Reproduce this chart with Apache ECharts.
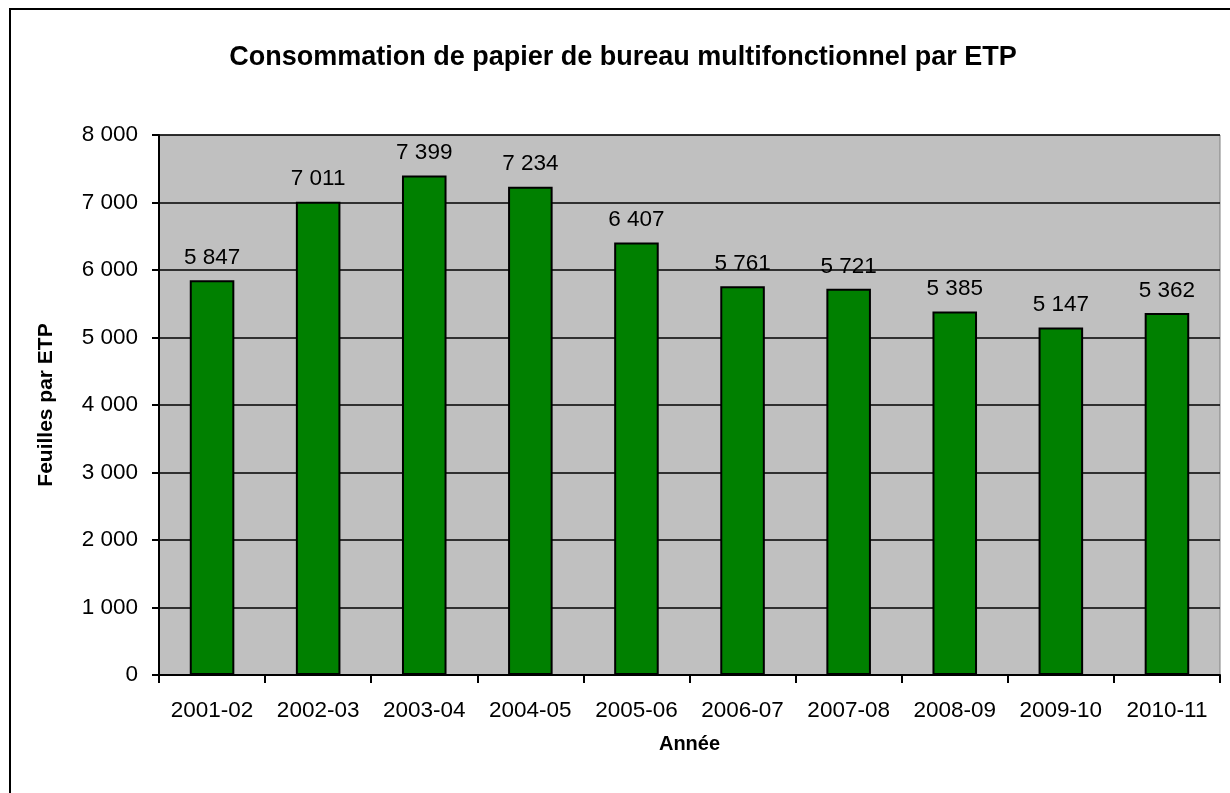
<!DOCTYPE html>
<html>
<head>
<meta charset="utf-8">
<script src="https://cdn.jsdelivr.net/npm/echarts@6/dist/echarts.min.js"></script>
<style>html,body{margin:0;padding:0;background:#fff}#c{width:1230px;height:793px}</style>
</head>
<body>
<div id="c"></div>
<script>
const titleText = "Consommation de papier de bureau multifonctionnel par ETP";
const categories = ["2001-02","2002-03","2003-04","2004-05","2005-06","2006-07","2007-08","2008-09","2009-10","2010-11"];
const values = [5847, 7011, 7399, 7234, 6407, 5761, 5721, 5385, 5147, 5362];
const yAxisName = "Feuilles par ETP";
const xAxisName = "Année";

function fmt(v){ return String(v).replace(/\B(?=(\d{3})+(?!\d))/g, " "); }
const FONT = "Liberation Sans, Arial, sans-serif";
const chart = echarts.init(document.getElementById('c'), null, {renderer:'canvas'});
chart.setOption({
  animation:false,
  backgroundColor:'#fff',
  title:{text:titleText,left:618,textAlign:'center',top:39,textStyle:{fontFamily:FONT,fontSize:27,fontWeight:'bold',color:'#000'}},
  graphic:[{type:'rect',shape:{x:10,y:9,width:1240,height:800},style:{fill:'none',stroke:'#000',lineWidth:2},z:-1}],
  grid:{left:159,top:135,width:1061,height:540,show:true,backgroundColor:'#c0c0c0',borderColor:'#808080',borderWidth:1},
  xAxis:{type:'category',data:categories,
    axisLine:{lineStyle:{color:'#000',width:2}},
    axisTick:{show:true,interval:0,length:8,lineStyle:{color:'#000',width:2}},
    axisLabel:{interval:0,hideOverlap:false,fontFamily:FONT,fontSize:22.5,color:'#000',margin:24},
    name:xAxisName,nameLocation:'middle',nameGap:59,nameMoveOverlap:false,nameTextStyle:{fontFamily:FONT,fontSize:20,fontWeight:'bold',color:'#000'}},
  yAxis:{type:'value',min:0,max:8000,interval:1000,
    axisLine:{show:true,lineStyle:{color:'#000',width:2}},
    axisTick:{show:true,length:7,lineStyle:{color:'#000',width:2}},
    splitLine:{lineStyle:{color:'#000',width:1.5}},
    axisLabel:{fontFamily:FONT,fontSize:22.5,color:'#000',margin:21,formatter:fmt},
    name:yAxisName,nameLocation:'middle',nameGap:102,nameMoveOverlap:false,nameRotate:90,nameTextStyle:{fontFamily:FONT,fontSize:21,fontWeight:'bold',color:'#000'}},
  series:[{type:'bar',data:values,barWidth:'42%',
    itemStyle:{color:'#008000',borderColor:'#000',borderWidth:2},
    label:{show:true,position:'top',distance:11,fontFamily:FONT,fontSize:22.5,color:'#000',formatter:p=>fmt(p.value)}}]
});
</script>
</body>
</html>
